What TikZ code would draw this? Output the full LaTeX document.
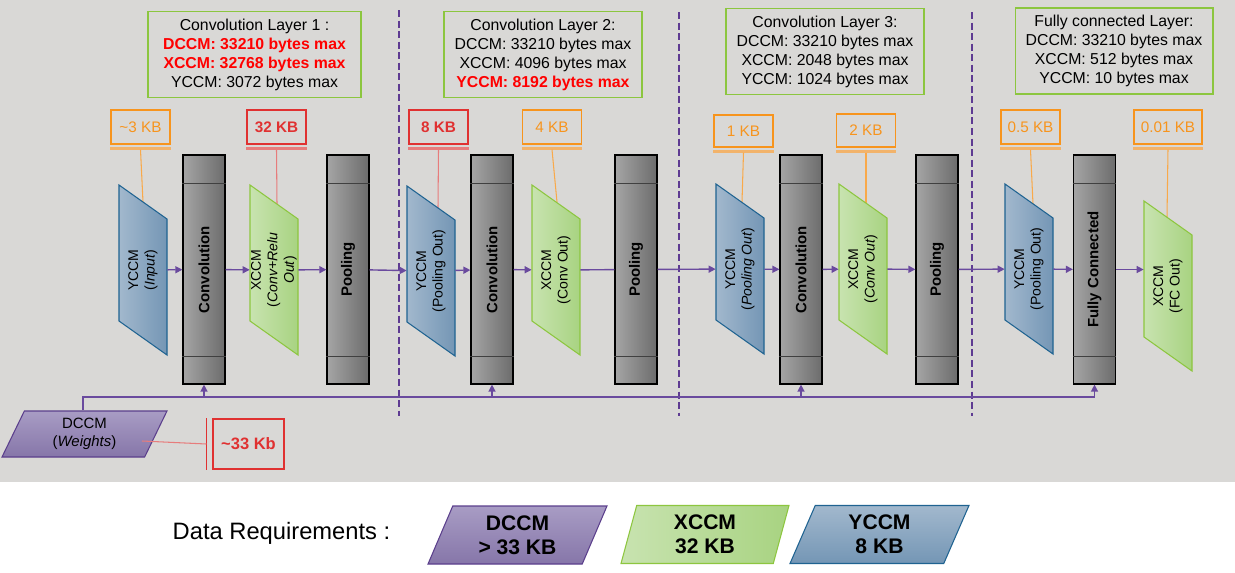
\documentclass[tikz,border=0pt]{standalone}
\usepackage{fontspec}
\setmainfont{Liberation Sans}
\usetikzlibrary{shapes.geometric,arrows.meta,calc}

\definecolor{bggrey}{HTML}{D9D8D6}
\definecolor{flowpurple}{HTML}{6A4A9E}
\definecolor{seppurple}{HTML}{5E3B92}
\definecolor{boxgreen}{HTML}{8CC63F}
\definecolor{tagorange}{HTML}{F7941D}
\definecolor{barorange}{HTML}{F2B36B}
\definecolor{tagred}{HTML}{E03131}
\definecolor{barred}{HTML}{E77C7C}
\definecolor{maxred}{HTML}{FF0000}
\definecolor{ylight}{HTML}{A2B8CD}
\definecolor{ydark}{HTML}{7496B5}
\definecolor{yborder}{HTML}{1F6391}
\definecolor{xlight}{HTML}{C8E3B0}
\definecolor{xdark}{HTML}{A8D381}
\definecolor{xborder}{HTML}{8DC63F}
\definecolor{dlight}{HTML}{A89CC4}
\definecolor{ddark}{HTML}{8676A9}
\definecolor{dborder}{HTML}{5B3F8C}
\definecolor{glight}{HTML}{A5A5A5}
\definecolor{gdark}{HTML}{6C6C6C}

\begin{document}
\begin{tikzpicture}
	[x=0.02cm,y=-0.02cm,
	every node/.style={inner sep=0pt},
	layerbox/.style={draw=boxgreen,line width=0.6pt,minimum width=3.96cm,minimum height=1.72cm,align=center,font=\fontsize{9}{10.8}\selectfont},
	tag/.style={line width=0.6pt,minimum width=1.18cm,minimum height=0.68cm,font=\fontsize{8.7}{10}\selectfont},
	orangetag/.style={tag,draw=tagorange,text=tagorange},
	redtag/.style={tag,draw=tagred,text=tagred,font=\fontsize{8.7}{10}\selectfont\bfseries},
	orangebar/.style={barorange,line width=1.5pt},
	redbar/.style={barred,line width=1.5pt},
	orangeline/.style={tagorange!80,line width=0.6pt},
	redline/.style={barred,line width=0.6pt},
	column/.style={draw=black,line width=0.7pt,left color=glight,right color=gdark,minimum width=0.84cm,minimum height=4.58cm,font=\fontsize{8.5}{10}\selectfont\bfseries},
	band/.style={black!75,line width=1pt},
	yshape/.style={draw=yborder,line width=0.6pt,left color=ylight,right color=ydark},
	xshape/.style={draw=xborder,line width=0.6pt,left color=xlight,right color=xdark},
	mem/.style={rotate=90,minimum width=2.74cm,minimum height=0.96cm,align=center,font=\fontsize{8}{9.4}\selectfont},
	legend/.style={trapezium,trapezium stretches body,minimum height=1.16cm,align=center,font=\fontsize{12}{13.6}\selectfont\bfseries,line width=0.6pt},
	flow/.style={flowpurple,line width=0.8pt,-{Triangle[length=4pt,width=4pt]}},
	link/.style={flowpurple,line width=0.8pt},
	layersep/.style={seppurple,line width=1.2pt,dash pattern=on 4pt off 2pt}]
	\fill[white] (0,0) rectangle (1235,572);
	\fill[bggrey] (0,0) rectangle (1235,482);
	\useasboundingbox (0,0) rectangle (1235,572);
	\draw[layersep] (399,10) -- (399,416);
	\draw[layersep] (679,12) -- (679,416);
	\draw[layersep] (972,12) -- (972,416);

	\node[layerbox,minimum width=4.26cm] (l1) at (254.5,54.5) {Convolution Layer 1 :\\\textbf{\color{maxred}DCCM: 33210 bytes max}\\\textbf{\color{maxred}XCCM: 32768 bytes max}\\YCCM: 3072 bytes max};
	\node[layerbox] (l2) at (543,54.5) {Convolution Layer 2:\\DCCM: 33210 bytes max\\XCCM: 4096 bytes max\\\textbf{\color{maxred}YCCM: 8192 bytes max}};
	\node[layerbox] (l3) at (825,51.5) {Convolution Layer 3:\\DCCM: 33210 bytes max\\XCCM: 2048 bytes max\\YCCM: 1024 bytes max};
	\node[layerbox] (l4) at (1114,51) {Fully connected Layer:\\DCCM: 33210 bytes max\\XCCM: 512 bytes max\\YCCM: 10 bytes max};

	\node[orangetag] (t1) at (140.5,127) {\textasciitilde3 KB};
	\node[redtag] (t2) at (276.5,127) {32 KB};
	\node[redtag] (t3) at (438.5,127) {8 KB};
	\node[orangetag] (t4) at (552,127) {4 KB};
	\node[orangetag,minimum height=0.64cm] (t5) at (743.5,131) {1 KB};
	\node[orangetag,minimum height=0.66cm] (t6) at (866,130.5) {2 KB};
	\node[orangetag] (t7) at (1030.5,127) {0.5 KB};
	\node[orangetag,minimum width=1.36cm] (t8) at (1168,127) {0.01 KB};
	\coordinate (e1) at (143,202);
	\coordinate (e2) at (277,204);
	\coordinate (e3) at (438,208);
	\coordinate (e4) at (557,202);
	\coordinate (e5) at (742,202);
	\coordinate (e6) at (866,203);
	\coordinate (e7) at (1033,204);
	\coordinate (e8) at (1167,217);
	\foreach \t/\e in {t1/e1,t4/e4,t5/e5,t6/e6,t7/e7,t8/e8}{
		\draw[orangebar] ($(\t.south west)+(0,4)$) -- ($(\t.south east)+(0,4)$);
		\draw[orangeline] ($(\t.south)+(0,5)$) -- (\e);
	}
	\foreach \t/\e in {t2/e2,t3/e3}{
		\draw[redbar] ($(\t.south west)+(0,4)$) -- ($(\t.south east)+(0,4)$);
		\draw[redline] ($(\t.south)+(0,5)$) -- (\e);
	}

	\node[column] (c1) at (204,269.5) {\rotatebox{90}{Convolution}};
	\node[column] (p1) at (348,269.5) {\rotatebox{90}{Pooling}};
	\node[column] (c2) at (492,269.5) {\rotatebox{90}{Convolution}};
	\node[column] (p2) at (636,269.5) {\rotatebox{90}{Pooling}};
	\node[column] (c3) at (801,269.5) {\rotatebox{90}{Convolution}};
	\node[column] (p3) at (937,269.5) {\rotatebox{90}{Pooling}};
	\node[column] (fc) at (1094.5,269.5) {\rotatebox{90}{Fully Connected}};
	\foreach \c in {c1,p1,c2,p2,c3,p3,fc}{
		\draw[band] ($(\c.north west)+(0,29)$) -- ($(\c.north east)+(0,29)$);
		\draw[band] ($(\c.south west)+(0,-28)$) -- ($(\c.south east)+(0,-28)$);
	}

	\foreach \xa/\ya/\s in {119/185/yshape,250/185/xshape,407/186/yshape,532/185/xshape,716/184/yshape,839/184/xshape,1005/184/yshape,1144/201/xshape}
		\draw[\s] (\xa,\ya) -- ++(48,34) -- ++(0,136) -- ++(-48,-34) -- cycle;
	\node[mem] (y1) at (143,270) {YCCM\\(\textit{Input})};
	\node[mem] (x1) at (274,270) {XCCM\\(\textit{Conv+Relu}\\\textit{Out})};
	\node[mem] (y2) at (431,271) {YCCM\\(Pooling Out)};
	\node[mem] (x2) at (556,270) {XCCM\\(Conv Out)};
	\node[mem] (y3) at (740,269) {YCCM\\(\textit{Pooling Out})};
	\node[mem] (x3) at (863,269) {XCCM\\(\textit{Conv Out})};
	\node[mem] (y4) at (1029,269) {YCCM\\(Pooling Out)};
	\node[mem] (x4) at (1168,286) {XCCM\\(FC Out)};

	\draw[flow] (y1) -- (c1);
	\draw[flow] (c1) -- (x1);
	\draw[flow] (x1) -- (p1);
	\draw[flow] (p1) -- (y2);
	\draw[flow] (y2) -- (c2);
	\draw[flow] (c2) -- (x2);
	\draw[link] (x2) -- (p2);
	\draw[flow] (p2) -- (y3);
	\draw[flow] (y3) -- (c3);
	\draw[flow] (c3) -- (x3);
	\draw[flow] (x3) -- (p3);
	\draw[flow] (p3) -- (y4);
	\draw[flow] (y4) -- (fc);
	\draw[flow] (fc) -- (fc -| x4.north);

	\node[trapezium,trapezium left angle=54.3,trapezium right angle=125.7,trapezium stretches body,minimum width=3.3cm,minimum height=0.92cm,draw=dborder,line width=0.6pt,top color=dlight,bottom color=ddark,align=center,font=\fontsize{8.5}{10}\selectfont] (w) at (84.5,434) {DCCM\\(\textit{Weights})};
	\coordinate (bus) at (83,397);
	\draw[flow] (w.north -| bus) -- (bus) -| (fc);
	\foreach \c in {c1,c2,c3}
		\draw[flow] (\c |- bus) -- (\c);

	\node[redtag,minimum width=1.42cm,minimum height=1cm,font=\fontsize{9.4}{11}\selectfont\bfseries] (w33) at (248.5,444) {\textasciitilde33 Kb};
	\coordinate (we) at (142,441);
	\draw[tagred,line width=0.7pt] ($(w33.north west)+(-6,0)$) -- ($(w33.south west)+(-6,0)$);
	\draw[redline] ($(w33.west)+(-6,0)$) -- (we);

	\node[font=\fontsize{13.5}{16}\selectfont] (dr) at (281.5,533) {Data Requirements :};
	\node[legend,trapezium left angle=57.5,trapezium right angle=122.5,minimum width=3.58cm,draw=dborder,top color=dlight,bottom color=ddark] (ld) at (517.5,535) {DCCM\\> 33 KB};
	\node[legend,trapezium left angle=68,trapezium right angle=112,minimum width=3.36cm,draw=xborder,left color=xlight,right color=xdark] (lx) at (705,534.5) {XCCM\\32 KB};
	\node[legend,trapezium left angle=57,trapezium right angle=123,minimum width=3.58cm,draw=yborder,top color=ylight,bottom color=ydark] (ly) at (879.5,534.5) {YCCM\\8 KB};
\end{tikzpicture}
\end{document}
